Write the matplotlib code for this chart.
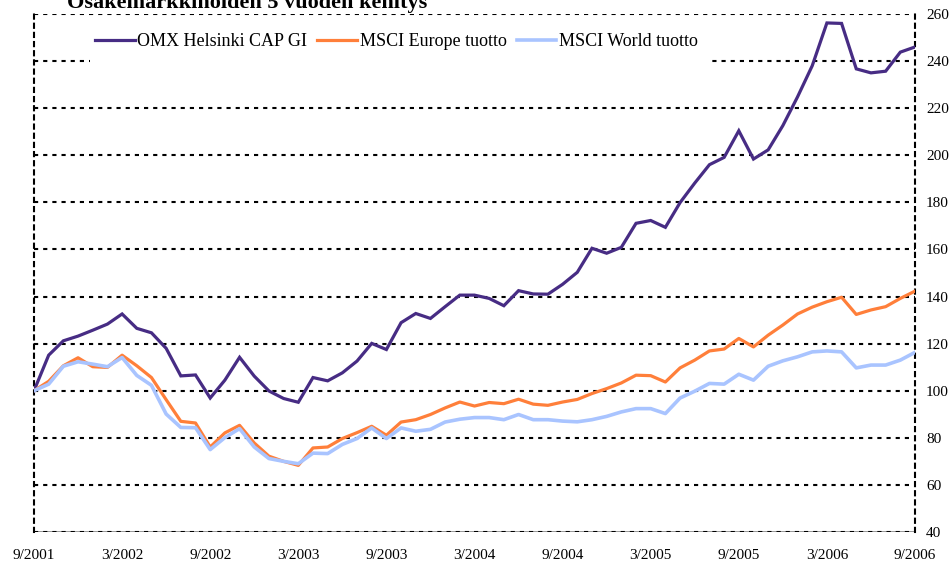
import matplotlib
matplotlib.use("Agg")
import matplotlib.pyplot as plt
from matplotlib.patches import Rectangle

plt.rcParams['font.family'] = ['Liberation Serif', 'DejaVu Serif']

# Monthly index values, 9/2001 .. 9/2006 (61 months)
omx = [100.0, 115.1, 121.2, 123.2, 125.7, 128.3, 132.6, 126.5, 124.6, 118.0,
       106.3, 106.7, 96.9, 104.5, 114.2, 106.2, 99.9, 96.7, 95.1, 105.6,
       104.2, 107.6, 112.6, 120.1, 117.5, 128.9, 132.8, 130.7, 135.7, 140.6,
       140.6, 139.2, 136.1, 142.5, 141.1, 141.0, 145.2, 150.3, 160.5, 158.4,
       160.9, 171.1, 172.3, 169.4, 179.9, 188.2, 196.0, 199.1, 210.4, 198.4,
       202.3, 212.6, 224.8, 238.0, 256.2, 256.0, 236.7, 235.0, 235.7, 243.8,
       246.0]
europe = [100.0, 104.0, 110.6, 114.0, 110.2, 109.9, 115.1, 110.6, 105.6, 96.2,
          87.0, 86.3, 76.1, 82.1, 85.3, 77.8, 72.2, 70.0, 68.3, 75.7,
          76.1, 79.7, 82.2, 84.9, 81.1, 86.7, 87.7, 89.9, 92.7, 95.2,
          93.5, 95.0, 94.5, 96.4, 94.3, 93.8, 95.2, 96.3, 98.8, 100.9,
          103.3, 106.6, 106.4, 103.7, 109.7, 113.0, 116.9, 117.7, 122.2, 118.6,
          123.6, 127.9, 132.6, 135.5, 137.8, 139.7, 132.4, 134.3, 135.7, 139.2,
          142.3]
world = [100.0, 102.8, 110.4, 112.3, 111.3, 110.2, 114.1, 106.5, 102.3, 90.1,
         84.4, 84.3, 75.0, 80.1, 83.9, 76.1, 71.2, 70.0, 69.0, 73.5,
         73.3, 77.2, 79.7, 84.2, 79.7, 84.2, 82.8, 83.6, 86.7, 87.9,
         88.6, 88.6, 87.7, 89.9, 87.7, 87.7, 87.1, 86.8, 87.7, 89.1,
         91.0, 92.4, 92.4, 90.3, 96.9, 99.8, 103.1, 102.8, 107.0, 104.5,
         110.4, 112.7, 114.4, 116.5, 116.9, 116.5, 109.7, 110.9, 110.9, 113.0,
         116.3]
series_names = ["OMX Helsinki CAP GI", "MSCI Europe tuotto", "MSCI World tuotto"]
tick_labels = ["9/2001", "3/2002", "9/2002", "3/2003", "9/2003", "3/2004",
               "9/2004", "3/2005", "9/2005", "3/2006", "9/2006"]
yticks = list(range(40, 261, 20))
title = "Osakemarkkinoiden 5 vuoden kehitys"

W, H = 953, 565
fig = plt.figure(figsize=(W / 100, H / 100), dpi=100)
L, R, T, B = 34, 915, 14, 532
ax = fig.add_axes([L / W, 1 - B / H, (R - L) / W, (B - T) / H])

x = list(range(len(omx)))
ax.plot(x, omx, color="#472C84", lw=2.3, label=series_names[0], zorder=3, solid_joinstyle='miter')
ax.plot(x, europe, color="#FF7F3A", lw=2.3, label=series_names[1], zorder=3)
ax.plot(x, world, color="#A9C4FF", lw=2.6, label=series_names[2], zorder=3)

ax.set_xlim(0, 60)
ax.set_ylim(40, 260)
ax.set_yticks(yticks)
ax.set_xticks(range(0, 61, 6))
ax.set_xticklabels(tick_labels)
ax.yaxis.tick_right()
ax.tick_params(axis='both', length=0, labelsize=11)
ax.tick_params(axis='y', pad=8)
ax.tick_params(axis='x', pad=12)

dash = (0, (2, 2.4))
ax.yaxis.grid(True, color='black', linestyle=dash, linewidth=1.5, zorder=0)
ax.set_axisbelow(True)
for s in ['top', 'bottom']:
    ax.spines[s].set_visible(False)
for s in ['left', 'right']:
    ax.spines[s].set_linestyle(dash)
    ax.spines[s].set_linewidth(1.5)
ax.axhline(40, color='#888888', lw=1.2, zorder=0.5)

# white box behind legend
ax.add_patch(Rectangle(((90 - L) / (R - L), (B - 66) / (B - T)),
                       (712 - 90) / (R - L), (66 - 20) / (B - T),
                       transform=ax.transAxes, facecolor='white',
                       edgecolor='none', zorder=1))

ax.legend(loc='center left', bbox_to_anchor=((95 - L) / (R - L), (B - 42) / (B - T)),
          ncol=3, frameon=False, fontsize=13, handlelength=2.2,
          handletextpad=0.15, columnspacing=0.55, borderpad=0, borderaxespad=0)

fig.text(67 / W, 1 - 8 / H, title, fontsize=16, fontweight='bold', va='baseline', ha='left')

fig.savefig("out.png", dpi=100)
